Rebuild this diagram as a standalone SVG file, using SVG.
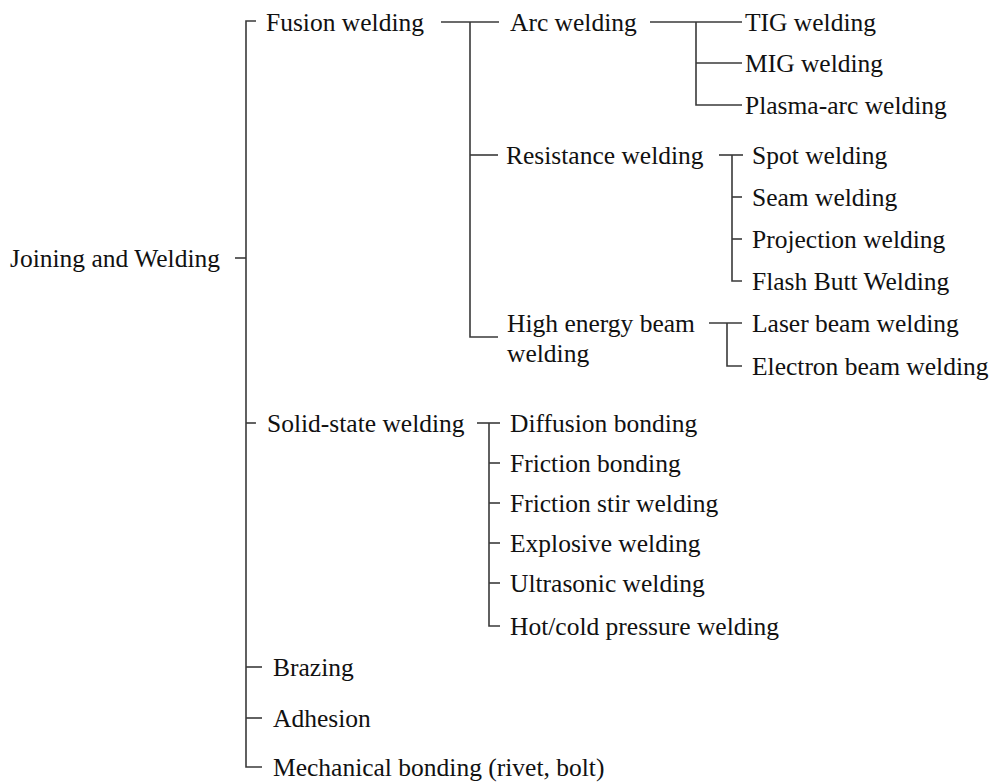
<svg xmlns="http://www.w3.org/2000/svg" width="992" height="782" viewBox="0 0 992 782">
<style>
text{font-family:"Liberation Serif","Times New Roman",serif;font-size:25.5px;fill:#111}
.c line,.c polyline{stroke:#3a3a3a;stroke-width:1.6;fill:none}
</style>
<rect width="992" height="782" fill="#fff"/>
<g class="c" id="connectors">
<polyline points="256,21 246,21 246,767 262,767"/>
<line x1="235" y1="258" x2="246" y2="258"/>
<line x1="246" y1="423" x2="256" y2="423"/>
<line x1="246" y1="667" x2="262" y2="667"/>
<line x1="246" y1="718" x2="262" y2="718"/>
<line x1="441" y1="22" x2="499" y2="22"/>
<polyline points="470,22 470,337 498,337"/>
<line x1="470" y1="155" x2="498" y2="155"/>
<line x1="650" y1="22" x2="742" y2="22"/>
<polyline points="696,22 696,105 742,105"/>
<line x1="696" y1="63" x2="742" y2="63"/>
<line x1="719" y1="155" x2="743" y2="155"/>
<polyline points="732,155 732,281 742,281"/>
<line x1="732" y1="197" x2="742" y2="197"/>
<line x1="732" y1="239" x2="742" y2="239"/>
<line x1="709" y1="323" x2="742" y2="323"/>
<polyline points="727,323 727,366 742,366"/>
<line x1="477" y1="423" x2="500" y2="423"/>
<polyline points="489,423 489,626 500,626"/>
<line x1="489" y1="463" x2="500" y2="463"/>
<line x1="489" y1="503" x2="500" y2="503"/>
<line x1="489" y1="543" x2="500" y2="543"/>
<line x1="489" y1="583" x2="500" y2="583"/>
</g>
<g id="root"><text x="10" y="267">Joining and Welding</text></g>
<g id="fusion"><text x="266" y="31">Fusion welding</text></g>
<g id="arc"><text x="510" y="31">Arc welding</text></g>
<g id="tig"><text x="745" y="31">TIG welding</text></g>
<g id="mig"><text x="745" y="72">MIG welding</text></g>
<g id="plasma"><text x="745" y="114">Plasma-arc welding</text></g>
<g id="resistance"><text x="506" y="164">Resistance welding</text></g>
<g id="spot"><text x="752" y="164">Spot welding</text></g>
<g id="seam"><text x="752" y="206">Seam welding</text></g>
<g id="projection"><text x="752" y="248">Projection welding</text></g>
<g id="flash"><text x="752" y="290">Flash Butt Welding</text></g>
<g id="highenergy"><text x="507" y="332">High energy beam</text><text x="507" y="362">welding</text></g>
<g id="laser"><text x="752" y="332">Laser beam welding</text></g>
<g id="electron"><text x="752" y="375">Electron beam welding</text></g>
<g id="solid"><text x="267" y="432">Solid-state welding</text></g>
<g id="diffusion"><text x="510" y="432">Diffusion bonding</text></g>
<g id="friction"><text x="510" y="472">Friction bonding</text></g>
<g id="stir"><text x="510" y="512">Friction stir welding</text></g>
<g id="explosive"><text x="510" y="552">Explosive welding</text></g>
<g id="ultrasonic"><text x="510" y="592">Ultrasonic welding</text></g>
<g id="hotcold"><text x="510" y="635">Hot/cold pressure welding</text></g>
<g id="brazing"><text x="273" y="676">Brazing</text></g>
<g id="adhesion"><text x="273" y="727">Adhesion</text></g>
<g id="mechanical"><text x="273" y="776">Mechanical bonding (rivet, bolt)</text></g>
</svg>
